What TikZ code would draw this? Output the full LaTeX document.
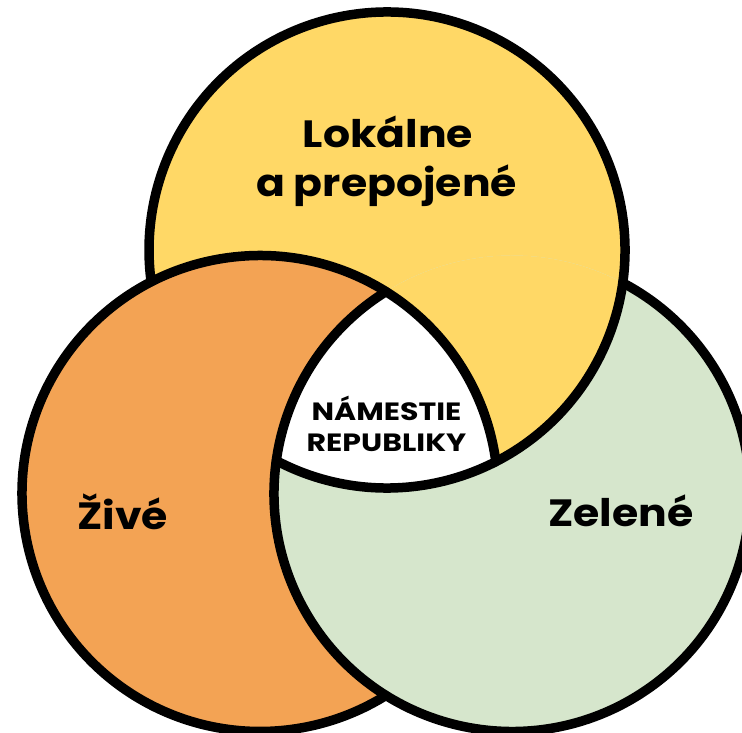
\documentclass[tikz,border=0pt]{standalone}
\usepackage{fontspec}
\newfontfamily\labfont{Poppins}
\definecolor{cyellow}{HTML}{FFD866}
\definecolor{corange}{HTML}{F3A354}
\definecolor{cgreen}{HTML}{D6E6CC}
\begin{document}
\begin{tikzpicture}[x=1pt,y=1pt,
  ring/.style={line width=9.5pt,line cap=round,draw=black},
  biglabel/.style={anchor=base,inner sep=0pt,xscale=1.12,transform shape,font=\labfont\bfseries\fontsize{38}{46}\selectfont},
  smalllabel/.style={anchor=base,inner sep=0pt,xscale=1.2,transform shape,font=\labfont\bfseries\fontsize{25}{30}\selectfont}]
\def\r{238}
\def\Yx{387}\def\Yy{482}
\def\Ox{260}\def\Oy{238.5}
\def\Gx{512}\def\Gy{238.5}
\pgfmathsetmacro\phiYO{atan2(\Oy-\Yy,\Ox-\Yx)}
\pgfmathsetmacro\phiYG{atan2(\Gy-\Yy,\Gx-\Yx)}
\pgfmathsetmacro\phiOY{atan2(\Yy-\Oy,\Yx-\Ox)}
\pgfmathsetmacro\phiOG{atan2(\Gy-\Oy,\Gx-\Ox)}
\pgfmathsetmacro\phiGY{atan2(\Yy-\Gy,\Yx-\Gx)}
\pgfmathsetmacro\phiGO{atan2(\Oy-\Gy,\Ox-\Gx)}
\pgfmathsetmacro\aYO{acos(veclen(\Ox-\Yx,\Oy-\Yy)/(2*\r))}
\pgfmathsetmacro\aYG{acos(veclen(\Gx-\Yx,\Gy-\Yy)/(2*\r))}
\pgfmathsetmacro\aOG{acos(veclen(\Gx-\Ox,\Gy-\Oy)/(2*\r))}
% angles seen from Y
\pgfmathsetmacro\YB{\phiYO+\aYO}
\pgfmathsetmacro\YP{\phiYO-\aYO+360}
\pgfmathsetmacro\YC{\phiYG-\aYG}
\pgfmathsetmacro\YQ{\phiYG+\aYG}
% angles seen from O
\pgfmathsetmacro\OB{\phiOY-\aYO}
\pgfmathsetmacro\OA{\phiOG+\aOG}
\pgfmathsetmacro\OD{\phiOG-\aOG+360}
% angles seen from G
\pgfmathsetmacro\GC{\phiGY+\aYG}
\pgfmathsetmacro\GQ{\phiGY-\aYG+360}
\pgfmathsetmacro\GA{\phiGO-\aOG}
\useasboundingbox (0,0) rectangle (742,732);
\clip (0,0) rectangle (742,732);
\coordinate (Y) at (\Yx,\Yy);
\coordinate (O) at (\Ox,\Oy);
\coordinate (G) at (\Gx,\Gy);
% fills
\fill[white] (0,0) rectangle (742,732);
\fill[cyellow] (Y) circle[radius=\r];
\fill[corange] (O) circle[radius=\r];
\fill[cgreen] (G) circle[radius=\r];
% yellow lies over green outside orange
\fill[cyellow] (Y) ++(\YB:\r) arc[start angle=\YB,end angle=\YQ,radius=\r]
  arc[start angle=\GQ-360,end angle=\GA,radius=\r]
  arc[start angle=\OA,end angle=\OB,radius=\r] -- cycle;
% common part of all three
\fill[white] (O) ++(\OA:\r) arc[start angle=\OA,end angle=\OB,radius=\r]
  arc[start angle=\YB,end angle=\YC,radius=\r]
  arc[start angle=\GC,end angle=\GA,radius=\r] -- cycle;
% visible outlines
\draw[ring] (Y) ++(\YC:\r) arc[start angle=\YC,end angle=\YP,radius=\r];
\draw[ring] (O) ++(\OB:\r) arc[start angle=\OB,end angle=\OD,radius=\r];
\draw[ring] (G) ++(\GA:\r) arc[start angle=\GA,end angle=\GQ,radius=\r];
% labels
\node[biglabel] (lok) at (388,584) {Lokálne};
\node[biglabel] (pre) at (386.5,535.6) {a prepojené};
\node[biglabel] (ziv) at (122.5,203) {Živé};
\node[biglabel] (zel) at (621,206) {Zelené};
\node[smalllabel] (nam) at (386.5,311) {NÁMESTIE};
\node[smalllabel] (rep) at (386.5,280) {REPUBLIKY};
\end{tikzpicture}
\end{document}
